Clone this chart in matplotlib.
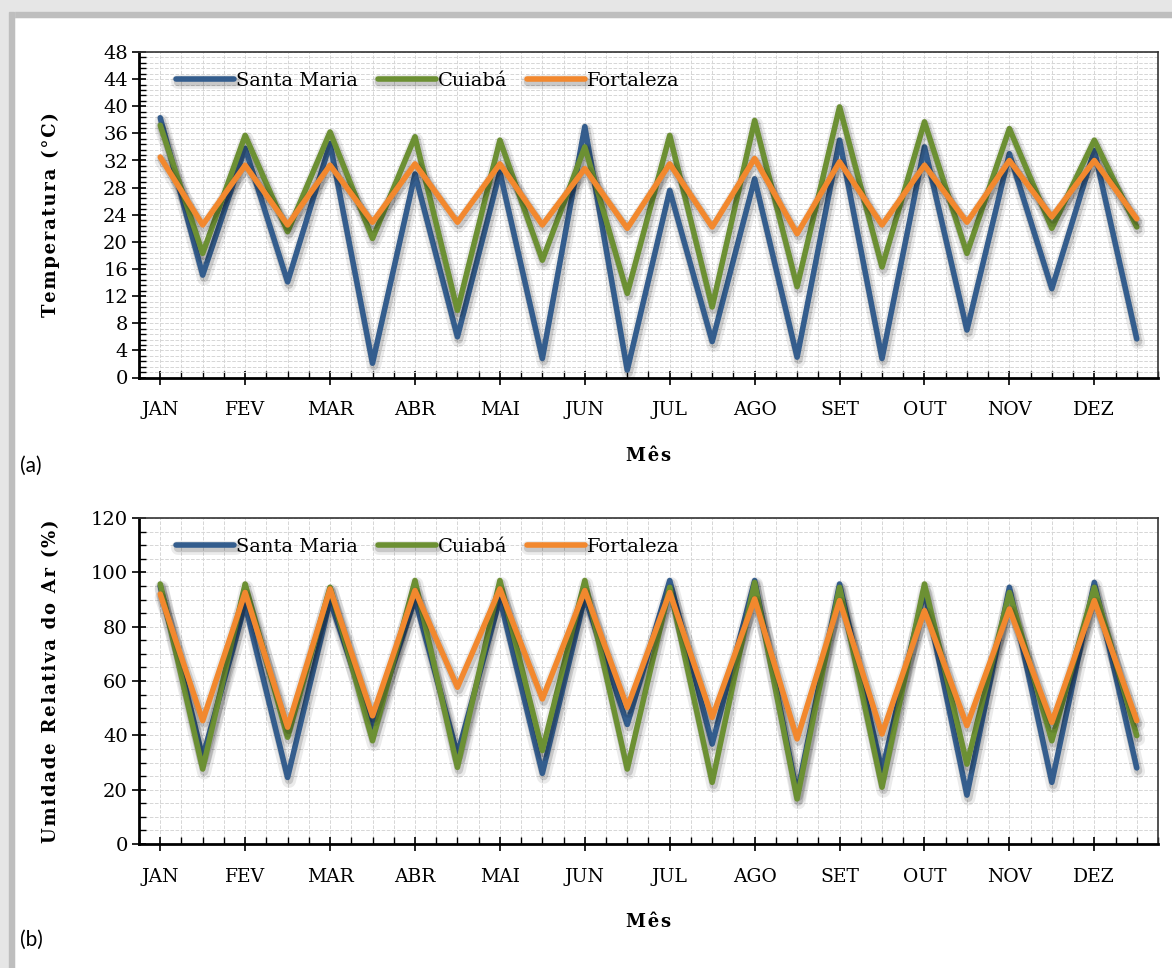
import numpy as np
import matplotlib
matplotlib.use("Agg")
import matplotlib.pyplot as plt
import matplotlib.patheffects as pe
from matplotlib.ticker import MultipleLocator
from matplotlib.patches import Rectangle

meses = ["JAN", "FEV", "MAR", "ABR", "MAI", "JUN", "JUL", "AGO", "SET", "OUT", "NOV", "DEZ"]
cidades = ["Santa Maria", "Cuiabá", "Fortaleza"]

# temperatura (max, min) por mes
temp_sm = [38.3, 15.1, 33.8, 14.1, 34.5, 2.1, 30.0, 6.0, 30.3, 2.8, 37.0, 1.1,
           27.6, 5.3, 29.3, 3.0, 35.0, 2.8, 34.0, 7.0, 33.0, 13.1, 33.5, 5.7]
temp_cu = [37.2, 18.3, 35.7, 21.5, 36.2, 20.5, 35.5, 9.9, 35.0, 17.3, 34.0, 12.4,
           35.7, 10.4, 37.9, 13.4, 39.9, 16.3, 37.7, 18.3, 36.7, 22.0, 35.0, 22.2]
temp_fo = [32.5, 22.5, 31.3, 22.5, 31.3, 22.9, 31.5, 22.9, 31.5, 22.5, 30.8, 22.0,
           31.5, 22.2, 32.3, 21.2, 31.8, 22.5, 31.3, 22.9, 32.0, 23.7, 32.0, 23.4]

# umidade relativa (max, min) por mes
hum_sm = [95.0, 32.0, 88.0, 24.5, 89.6, 43.0, 90.2, 33.0, 90.2, 26.0, 90.8, 44.0,
          97.0, 36.8, 97.0, 18.4, 95.7, 27.0, 93.3, 18.0, 94.5, 22.7, 96.3, 28.0]
hum_cu = [95.7, 27.6, 95.7, 39.3, 94.5, 38.0, 97.0, 28.2, 97.0, 34.4, 97.0, 27.6,
          94.5, 22.7, 96.3, 16.6, 94.5, 20.9, 95.7, 29.4, 92.6, 38.0, 94.5, 39.9]
hum_fo = [92.0, 45.4, 92.6, 43.0, 93.9, 47.2, 93.3, 57.7, 93.9, 53.4, 93.3, 50.3,
          92.6, 46.6, 90.2, 38.7, 89.6, 40.5, 85.9, 43.6, 86.5, 44.8, 89.6, 45.4]

cores = ["#345D8D", "#6C9033", "#F2882E"]
serif = ["DejaVu Serif"]

fig = plt.figure(figsize=(11.72, 9.68), dpi=100)
W, H = 1172, 968

# moldura cinza (topo e esquerda)
fig.patches.append(Rectangle((0, 1 - 17 / H), 1, 17 / H, transform=fig.transFigure, color="#E6E6E6", zorder=0))
fig.patches.append(Rectangle((0, 1 - 17 / H), 1, 5 / H, transform=fig.transFigure, color="#BEBEBE", zorder=0))
fig.patches.append(Rectangle((0, 0), 14 / W, 1, transform=fig.transFigure, color="#E6E6E6", zorder=0))
fig.patches.append(Rectangle((9 / W, 0), 5 / W, 1 - 12 / H, transform=fig.transFigure, color="#BEBEBE", zorder=0))


def spaced(s):
    return "\u200a".join(s)


def painel(rect, series, ymax, ystep, yminor, ylabel, letra, mes_y, letra_y):
    ax = fig.add_axes(rect)
    x = np.arange(24)
    sombra = [pe.SimpleLineShadow(offset=(1, -2.5), shadow_color="k", alpha=0.08, linewidth=10),
              pe.SimpleLineShadow(offset=(1, -2), shadow_color="k", alpha=0.15, linewidth=6),
              pe.Normal()]
    for nome, vals, cor in zip(cidades, series, cores):
        ax.plot(x, vals, color=cor, lw=4, label=nome, solid_capstyle="round",
                solid_joinstyle="round", path_effects=sombra)
    ax.set_xlim(-0.5, 23.5)
    ax.set_ylim(0, ymax)
    ax.set_xticks(np.arange(0, 24, 2))
    ax.set_xticklabels(meses, fontfamily=serif, fontsize=13.5)
    ax.xaxis.set_minor_locator(MultipleLocator(0.5))
    ax.yaxis.set_major_locator(MultipleLocator(ystep))
    ax.yaxis.set_minor_locator(MultipleLocator(yminor))
    for lab in ax.get_yticklabels():
        lab.set_fontfamily(serif)
        lab.set_fontsize(14)
    ax.tick_params(axis="both", which="major", direction="inout", length=10, width=1.2, color="k")
    ax.tick_params(axis="both", which="minor", direction="in", length=5, width=1.0, color="k")
    ax.tick_params(axis="x", which="major", pad=12)
    ax.tick_params(axis="y", which="major", pad=3)
    ax.grid(True, which="both", color="#D6D6D6", linestyle="--", linewidth=0.7)
    ax.set_axisbelow(True)
    for s in ["left", "bottom"]:
        ax.spines[s].set_linewidth(2)
    for s in ["top", "right"]:
        ax.spines[s].set_linewidth(1.2)
        ax.spines[s].set_color("#333333")
    ax.set_ylabel(spaced(ylabel), fontfamily=serif, fontsize=13, fontweight="bold", va="center")
    ax.yaxis.set_label_coords((51 - 139) / 1019, 0.5)
    ax.legend(loc="upper left", bbox_to_anchor=(0.025, 0.975), ncol=3, frameon=False,
              prop={"family": serif, "size": 14}, handlelength=3.0, handletextpad=0.1,
              columnspacing=1.0, borderaxespad=0.2)
    fig.text(0.5 * (rect[0] * 2 + rect[2]), 1 - mes_y / H, spaced("Mês"), ha="center", va="center",
             fontfamily=serif, fontsize=13, fontweight="bold")
    fig.text(20 / W, 1 - letra_y / H, letra, ha="left", va="center", fontfamily=["Lato", "DejaVu Sans"], fontsize=15)
    return ax


left = 139 / W
width = (1158 - 139) / W
painel([left, 1 - 377.5 / H, width, 325.5 / H], [temp_sm, temp_cu, temp_fo], 48, 4, 0.8,
       "Temperatura (°C)", "(a)", 456, 466)
painel([left, 1 - 844 / H, width, 326 / H], [hum_sm, hum_cu, hum_fo], 120, 20, 5,
       "Umidade Relativa do Ar (%)", "(b)", 922, 940)

fig.savefig("out.png", dpi=100)
